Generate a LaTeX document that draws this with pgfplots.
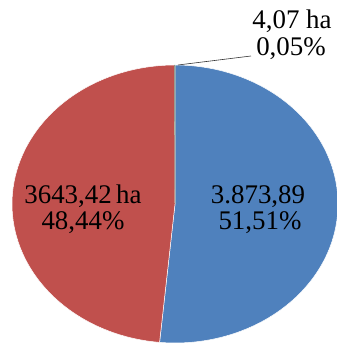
\documentclass[border=0pt]{standalone}
\usepackage{pgfplots}
\pgfplotsset{compat=1.18}
\usepackage{pgfplotstable}
\usepackage{fontspec}
\setmainfont{Liberation Serif}
\definecolor{cblue}{HTML}{4F81BD}
\definecolor{cred}{HTML}{C0504D}
\definecolor{cgreen}{HTML}{9BBB59}
\pgfplotstableread{
name value percent
A 3873.89 51.51
B 3643.42 48.44
C 4.07 0.05
}\piedata
\pgfplotstablegetelem{0}{percent}\of\piedata \let\pA\pgfplotsretval
\pgfplotstablegetelem{1}{percent}\of\piedata \let\pB\pgfplotsretval
\pgfplotstablegetelem{2}{percent}\of\piedata \let\pC\pgfplotsretval
\pgfmathsetmacro\aA{3.6*\pA}
\pgfmathsetmacro\aB{\aA+3.6*\pB}
\pgfmathsetmacro\aC{\aB+3.6*\pC}
\begin{document}
\begin{tikzpicture}
\begin{axis}[
  scale only axis, width=337bp, height=344bp,
  xmin=0, xmax=337, ymin=0, ymax=344, y dir=reverse,
  hide axis, clip=true,
]
\addplot[fill=cblue, draw=white, line width=0.5pt, domain=0:\aA, samples=120]
  ({175+163*sin(x)},{204-139*cos(x)}) -- (axis cs:175,204) -- cycle;
\addplot[fill=cred, draw=white, line width=0.5pt, domain=\aA:\aB, samples=120]
  ({175+163*sin(x)},{204-139*cos(x)}) -- (axis cs:175,204) -- cycle;
\addplot[fill=cgreen, draw=gray, line width=0.4pt, domain=\aB:\aC, samples=5]
  ({175+163*sin(x)},{204-139*cos(x)}) -- (axis cs:175,204) -- cycle;
\addplot[black!80, line width=0.6pt] coordinates {(178,65) (251,56)};
\end{axis}
\node[anchor=base, inner sep=0pt, font=\fontsize{27}{28}\selectfont] at (83bp,{(344-203)*1bp}) {3643,42\,ha};
\node[anchor=base, inner sep=0pt, font=\fontsize{27}{28}\selectfont] at (83bp,{(344-229)*1bp}) {48,44\%};
\node[anchor=base, inner sep=0pt, font=\fontsize{27}{28}\selectfont] at (258bp,{(344-203)*1bp}) {3.873,89};
\node[anchor=base, inner sep=0pt, font=\fontsize{27}{28}\selectfont] at (260bp,{(344-229)*1bp}) {51,51\%};
\node[anchor=base, inner sep=0pt, font=\fontsize{27}{28}\selectfont] at (292bp,{(344-28)*1bp}) {4,07 ha};
\node[anchor=base, inner sep=0pt, font=\fontsize{27}{28}\selectfont] at (291bp,{(344-55)*1bp}) {0,05\%};
\pgfresetboundingbox
\path (0,0) rectangle (337bp,344bp);
\end{tikzpicture}
\end{document}
